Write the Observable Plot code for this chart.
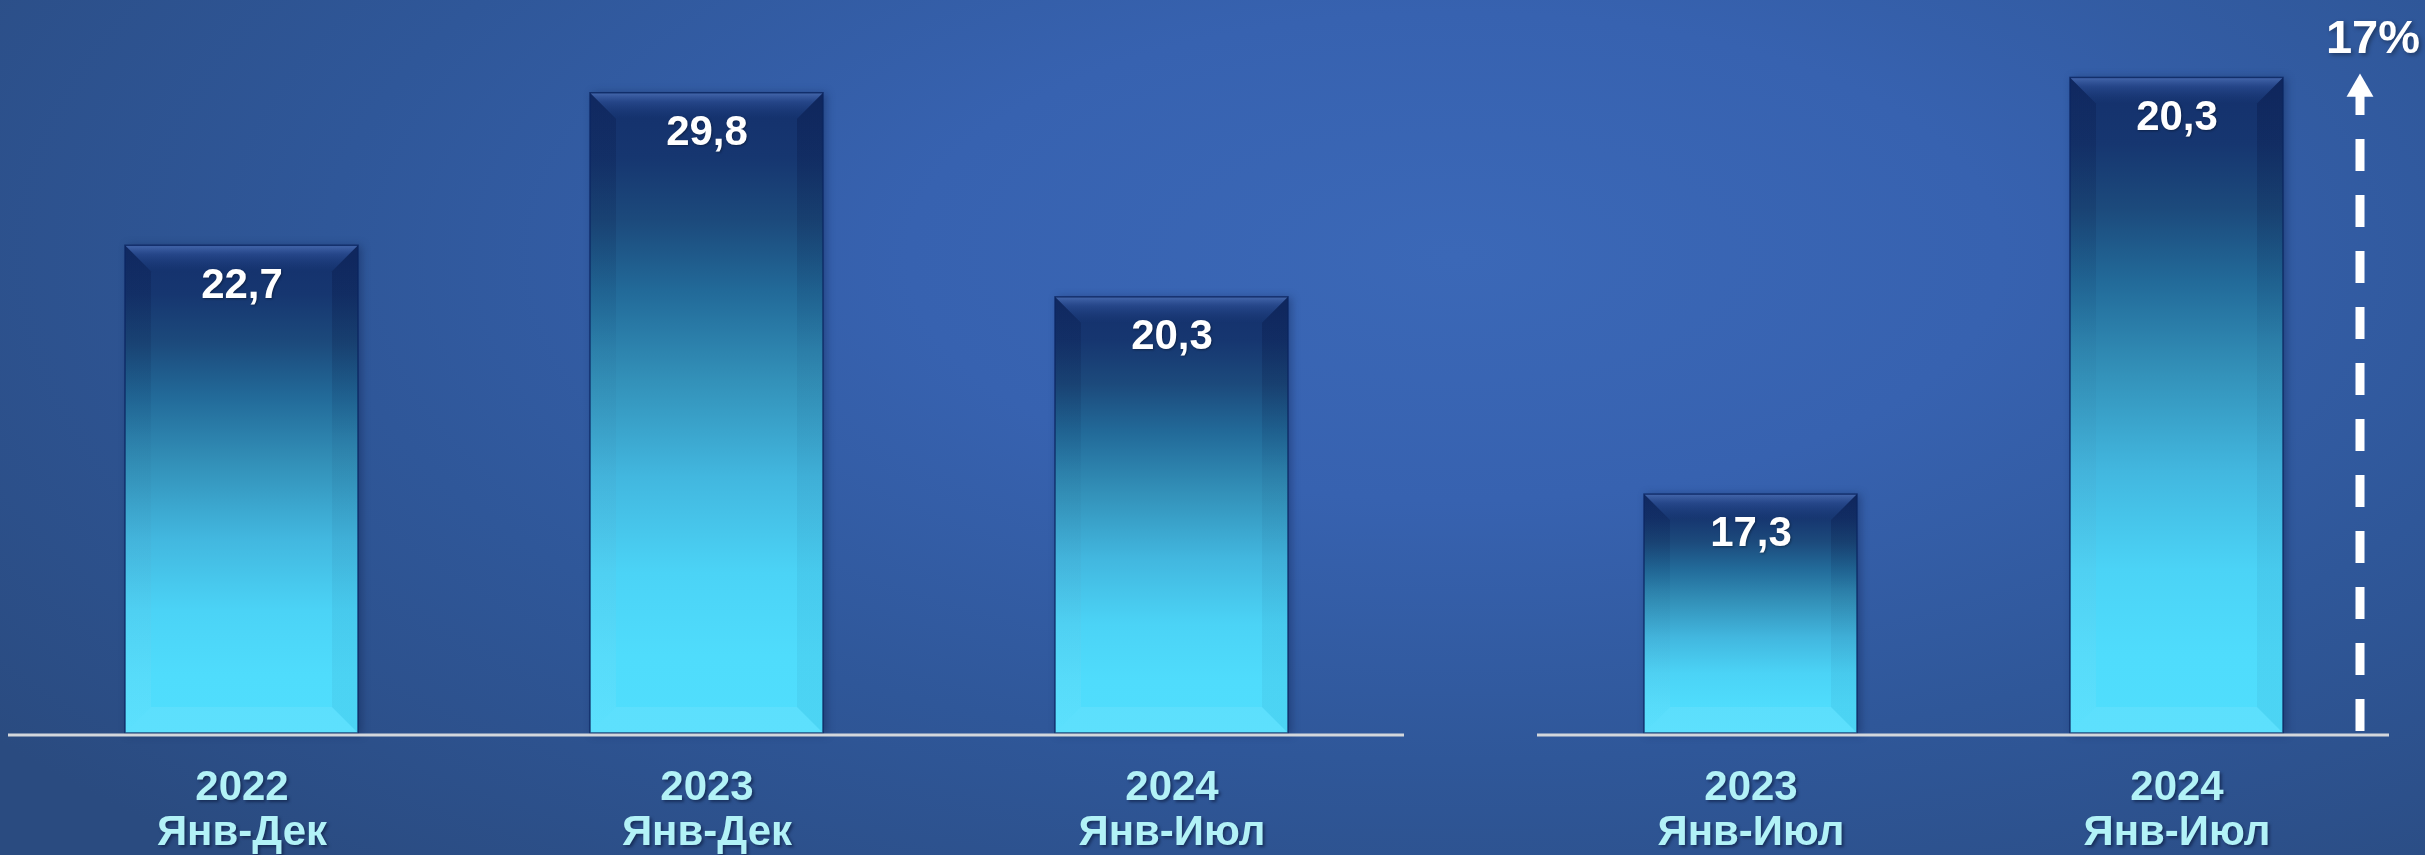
<!DOCTYPE html>
<html>
<head>
<meta charset="utf-8">
<script src="https://cdn.jsdelivr.net/npm/d3@7"></script>
<script src="https://cdn.jsdelivr.net/npm/@observablehq/plot@0.6"></script>
<style>
html, body { margin: 0; padding: 0; background: #2d5390; }
#wrap {
  position: relative; width: 2425px; height: 855px; overflow: hidden;
  background: radial-gradient(ellipse 75% 95% at 60% 30%, #3b68b7 0%, #3762b0 30%, #2f5799 62%, #2a4b80 100%);
  font-family: "Liberation Sans", Arial, sans-serif;
}
#wrap svg { position: absolute; top: 0; }
.bars { filter: drop-shadow(3px 1px 4px rgba(5,20,60,0.35)); }
.cat { filter: drop-shadow(2px 2px 1.5px rgba(10,25,60,0.6)); }
.val { filter: drop-shadow(1px 1px 1px rgba(0,0,0,0.35)); }
.growth { filter: drop-shadow(2px 2px 2px rgba(0,0,0,0.35)); }
</style>
</head>
<body>
<div id="wrap"></div>
<script>
// ---- data ----
const catsFull = ["2022\nЯнв-Дек", "2023\nЯнв-Дек", "2024\nЯнв-Июл"];
const valsFull = [22.7, 29.8, 20.3];
const catsYtd = ["2023\nЯнв-Июл", "2024\nЯнв-Июл"];
const valsYtd = [17.3, 20.3];
const growthLabel = "17%";

// scale settings
const fullDomain = [0, 33];
const ytdDomain = [15.58, 20.8];

const fmt = v => v.toFixed(1).replace(".", ",");
const dataFull = catsFull.map((c, i) => ({cat: c, value: valsFull[i]}));
const dataYtd = catsYtd.map((c, i) => ({cat: c, value: valsYtd[i]}));

function addDefs(svg, p) {
  const defs = d3.select(svg).insert("defs", ":first-child");
  const g = defs.append("linearGradient").attr("id", p + "bar").attr("x1", 0).attr("y1", 0).attr("x2", 0).attr("y2", 1);
  [[0, "#14306c"], [0.1, "#163670"], [0.2, "#1c4a7c"], [0.31, "#226a99"], [0.45, "#3391b9"],
   [0.6, "#42b7df"], [0.75, "#4bd3f6"], [0.88, "#4fdcfc"], [1, "#50defd"]]
    .forEach(([o, c]) => g.append("stop").attr("offset", o).attr("stop-color", c));
  const t = defs.append("linearGradient").attr("id", p + "top").attr("x1", 0).attr("y1", 0).attr("x2", 0).attr("y2", 1);
  t.append("stop").attr("offset", 0).attr("stop-color", "#6d95e0").attr("stop-opacity", 0.55);
  t.append("stop").attr("offset", 0.35).attr("stop-color", "#4a72c4").attr("stop-opacity", 0.32);
  t.append("stop").attr("offset", 1).attr("stop-color", "#2a4f9a").attr("stop-opacity", 0.0);
  const l = defs.append("linearGradient").attr("id", p + "left").attr("x1", 0).attr("y1", 0).attr("x2", 0).attr("y2", 1);
  l.append("stop").attr("offset", 0).attr("stop-color", "#020c35").attr("stop-opacity", 0.22);
  l.append("stop").attr("offset", 0.4).attr("stop-color", "#020c35").attr("stop-opacity", 0.03);
  l.append("stop").attr("offset", 1).attr("stop-color", "#ffffff").attr("stop-opacity", 0.07);
  const r = defs.append("linearGradient").attr("id", p + "right").attr("x1", 0).attr("y1", 0).attr("x2", 0).attr("y2", 1);
  r.append("stop").attr("offset", 0).attr("stop-color", "#020c35").attr("stop-opacity", 0.28);
  r.append("stop").attr("offset", 0.4).attr("stop-color", "#020c35").attr("stop-opacity", 0.05);
  r.append("stop").attr("offset", 1).attr("stop-color", "#03204a").attr("stop-opacity", 0.05);
}

function addBevel(svg, p) {
  const b = 26;
  d3.select(svg).selectAll("g.bars rect").each(function () {
    const r = d3.select(this);
    const x = +r.attr("x"), y = +r.attr("y"), w = +r.attr("width"), h = +r.attr("height");
    const parent = d3.select(this.parentNode);
    const poly = (pts, fill) => parent.append("polygon")
      .attr("points", pts.map(q => q.join(",")).join(" ")).attr("fill", fill);
    poly([[x, y], [x + b, y + b], [x + b, y + h - b], [x, y + h]], `url(#${p}left)`);
    poly([[x + w, y], [x + w - b, y + b], [x + w - b, y + h - b], [x + w, y + h]], `url(#${p}right)`);
    poly([[x, y + h], [x + b, y + h - b], [x + w - b, y + h - b], [x + w, y + h]], "rgba(255,255,255,0.08)");
    poly([[x, y], [x + w, y], [x + w - b, y + b], [x + b, y + b]], `url(#${p}top)`);
    parent.append("rect").attr("x", x).attr("y", y).attr("width", w).attr("height", h)
      .attr("fill", "none").attr("stroke", "#0b2560").attr("stroke-width", 1.5).attr("stroke-opacity", 0.8);
  });
}

function panel(data, cats, domain, opts, p, extra = []) {
  const base = domain[0];
  return Plot.plot({
    width: opts.width, height: 855,
    marginLeft: opts.ml, marginRight: opts.mr, marginTop: opts.mt, marginBottom: 122,
    x: {domain: cats, paddingInner: 0.5, paddingOuter: 0.25, axis: null},
    y: {domain, axis: null},
    style: {background: "transparent", overflow: "visible", fontFamily: "'Liberation Sans', Arial, sans-serif"},
    marks: [
      Plot.barY(data, {x: "cat", y1: base, y2: "value", fill: `url(#${p}bar)`, className: "bars"}),
      Plot.ruleY([base], {stroke: "#d3d7dc", strokeWidth: 3, dy: 1.5}),
      Plot.text(data, {x: "cat", y: "value", text: d => fmt(d.value), lineAnchor: "top", dy: 22,
        fill: "white", fontSize: 42, fontWeight: "bold", className: "val"}),
      Plot.text(data, {x: "cat", y: () => base, text: "cat", lineAnchor: "top", dy: 34, lineHeight: 1.08,
        fill: "#b2f2f7", fontSize: 42, fontWeight: "bold", className: "cat"}),
      ...extra
    ]
  });
}

const wrap = document.getElementById("wrap");

const left = panel(dataFull, catsFull, fullDomain, {width: 1460, ml: 8, mr: 56, mt: 24}, "L");
addDefs(left, "L"); addBevel(left, "L");
left.style.left = "0px";
wrap.appendChild(left);

const last = dataYtd[dataYtd.length - 1];
const arrowMarks = [
  Plot.ruleX([last], {x: "cat", y1: () => ytdDomain[0], y2: "value", dx: 183, insetTop: -2, insetBottom: -10,
    stroke: "white", strokeWidth: 9, strokeDasharray: "32,24"}),
  Plot.dot([last], {x: "cat", y: "value", dx: 183, dy: 11, symbol: "triangle", r: 10, fill: "white", stroke: "none"}),
  Plot.text([last], {x: "cat", y: "value", text: () => growthLabel, dx: 196, dy: -25, lineAnchor: "bottom",
    fill: "white", fontSize: 47, fontWeight: "bold", className: "growth"})
];
const right = panel(dataYtd, catsYtd, ytdDomain, {width: 965, ml: 77, mr: 36, mt: 8}, "R", arrowMarks);
addDefs(right, "R"); addBevel(right, "R");
right.style.left = "1460px";
wrap.appendChild(right);
</script>
</body>
</html>
